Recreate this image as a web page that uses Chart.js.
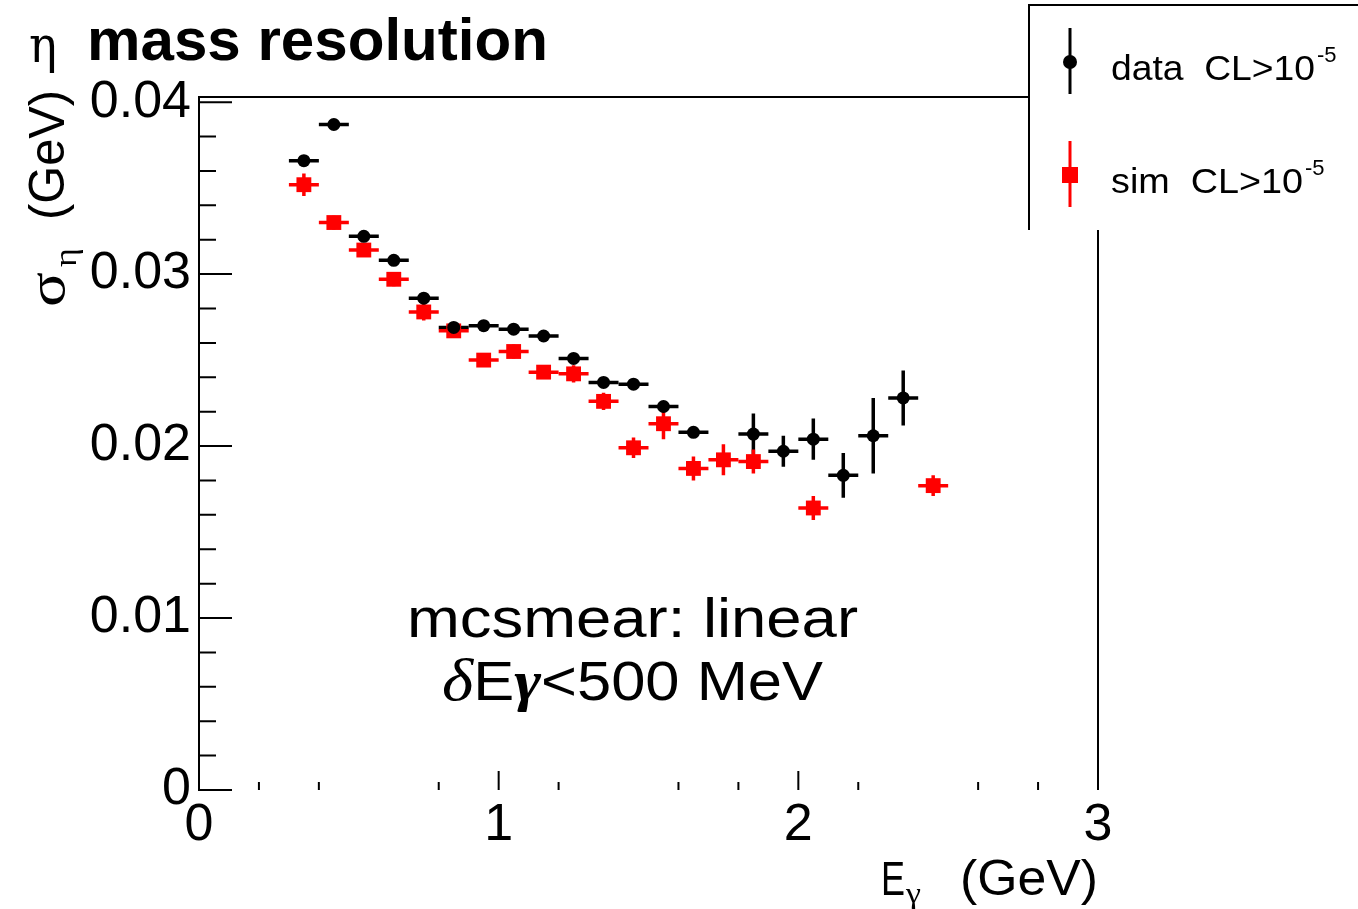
<!DOCTYPE html>
<html><head><meta charset="utf-8">
<script src="https://cdn.jsdelivr.net/npm/chart.js@4.4.1/dist/chart.umd.min.js"></script>
<style>html,body{margin:0;padding:0;background:#fff;}canvas{display:block;}</style>
</head><body>
<canvas id="c" width="1358" height="909" style="width:1358px;height:909px"></canvas>
<script>
// ---- data ----
const dataE = [0.35,0.45,0.55,0.65,0.75,0.85,0.95,1.05,1.15,1.25,1.35,1.45,1.55,1.65,1.85,1.95,2.05,2.15,2.25,2.35];
const dataSigma = [0.0366,0.0387,0.0322,0.0308,0.0286,0.0269,0.0270,0.0268,0.0264,0.0251,0.0237,0.0236,0.0223,0.0208,0.0207,0.0197,0.0204,0.0183,0.0206,0.0228];
const dataErr = [0.0001,0.0001,0.0002,0.0001,0.0002,0.0001,0.0002,0.0001,0.0002,0.0002,0.0002,0.0002,0.0003,0.0003,0.0012,0.0009,0.0012,0.0013,0.0022,0.0016];
const simE = [0.35,0.45,0.55,0.65,0.75,0.85,0.95,1.05,1.15,1.25,1.35,1.45,1.55,1.65,1.75,1.85,2.05,2.45];
const simSigma = [0.0352,0.0330,0.0314,0.0297,0.0278,0.0267,0.0250,0.0255,0.0243,0.0242,0.0226,0.0199,0.0213,0.0187,0.0192,0.0191,0.0164,0.0177];
const simErr = [0.00065,0.0004,0.0004,0.0004,0.0005,0.0004,0.0004,0.0004,0.0004,0.0005,0.0005,0.0006,0.0009,0.0007,0.0009,0.0007,0.0007,0.0006];
const binHalfWidth = 0.05;
const yTicks = [0, 0.01, 0.02, 0.03, 0.04];
const yTickLabels = ['0', '0.01', '0.02', '0.03', '0.04'];
const yMinorTicks = [0.002,0.004,0.006,0.008,0.012,0.014,0.016,0.018,0.022,0.024,0.026,0.028,0.032,0.034,0.036,0.038];
const xTicks = [0, 1, 2, 3];
const xTickLabels = ['0', '1', '2', '3'];
const xMinorTicks = [0.2,0.4,0.8,1.2,1.6,1.8,2.2,2.6,2.8];
const legendLabels = ['data  CL>10', 'sim  CL>10'];
const legendSup = '-5';

const SANS = '"Liberation Sans", Arial, Helvetica, sans-serif';
const SERIF = '"Liberation Serif", "DejaVu Serif", serif';
const GREEK = '"DejaVu Serif", "Liberation Serif", serif';

function stretchText(ctx, text, x, y, font, targetW) {
  ctx.save();
  ctx.font = font;
  ctx.textAlign = 'left';
  ctx.textBaseline = 'alphabetic';
  const w = ctx.measureText(text).width;
  const s = targetW ? targetW / w : 1;
  ctx.translate(x, y);
  ctx.scale(s, 1);
  ctx.fillText(text, 0, 0);
  ctx.restore();
  return w * s;
}

const rootPlugin = {
  id: 'rootStyle',
  beforeDatasetsDraw(chart) {
    const {ctx, scales: {x, y}} = chart;
    chart.data.datasets.forEach(ds => {
      ctx.save();
      ctx.strokeStyle = ds.backgroundColor;
      ctx.lineWidth = 3.5;
      ds.data.forEach((p, i) => {
        const px = x.getPixelForValue(p.x), py = y.getPixelForValue(p.y);
        const xl = x.getPixelForValue(p.x - binHalfWidth), xr = x.getPixelForValue(p.x + binHalfWidth);
        const yt = y.getPixelForValue(p.y + ds.errors[i]), yb = y.getPixelForValue(p.y - ds.errors[i]);
        ctx.beginPath();
        ctx.moveTo(xl, py); ctx.lineTo(xr, py);
        ctx.moveTo(px, yt); ctx.lineTo(px, yb);
        ctx.stroke();
      });
      ctx.restore();
    });
  },
  afterDraw(chart) {
    const {ctx, chartArea: a, scales: {x, y}} = chart;
    ctx.save();
    ctx.strokeStyle = '#000';
    ctx.fillStyle = '#000';
    ctx.lineWidth = 2;
    // frame: top (until legend) and right (below legend)
    ctx.beginPath();
    ctx.moveTo(a.left, a.top); ctx.lineTo(1029, a.top);
    ctx.moveTo(a.right, 230); ctx.lineTo(a.right, a.bottom);
    ctx.stroke();
    // y ticks (inward)
    ctx.beginPath();
    yTicks.forEach(v => { const py = y.getPixelForValue(v); ctx.moveTo(a.left, py); ctx.lineTo(a.left + 33, py); });
    yMinorTicks.forEach(v => { const py = y.getPixelForValue(v); ctx.moveTo(a.left, py); ctx.lineTo(a.left + 17, py); });
    // x ticks (upward)
    xTicks.forEach(v => { const px = x.getPixelForValue(v); ctx.moveTo(px, a.bottom); ctx.lineTo(px, a.bottom - 19); });
    xMinorTicks.forEach(v => { const px = x.getPixelForValue(v); ctx.moveTo(px, a.bottom); ctx.lineTo(px, a.bottom - 8); });
    ctx.stroke();

    // title
    stretchText(ctx, 'η', 29, 62, '50px ' + GREEK, 28);
    stretchText(ctx, 'mass resolution', 87, 60, 'bold 60px ' + SANS, 461);

    // y axis title (rotated)
    ctx.save();
    ctx.translate(64, 307);
    ctx.rotate(-Math.PI / 2);
    stretchText(ctx, 'σ', 0, 0, '52px ' + SERIF, 35);
    stretchText(ctx, 'η', 40, 12, '32px ' + SERIF, 19);
    stretchText(ctx, '(GeV)', 87, 0, '50px ' + SANS, 130);
    ctx.restore();

    // x axis title
    stretchText(ctx, 'E', 881, 895, '48px ' + SANS, 24);
    stretchText(ctx, 'γ', 906, 903, '30px ' + SERIF, 15);
    stretchText(ctx, '(GeV)', 960, 895, '50px ' + SANS, 138);

    // annotation
    stretchText(ctx, 'mcsmear: linear', 407, 637, '55px ' + SANS, 451);
    ctx.save();
    const parts = [
      {t: 'δ', f: 'italic 60px ' + SERIF},
      {t: 'E', f: '55px ' + SANS},
      {t: 'γ', f: 'italic bold 58px ' + SERIF},
      {t: '<500 MeV', f: '55px ' + SANS}
    ];
    ctx.textAlign = 'left';
    ctx.textBaseline = 'alphabetic';
    let tot = 0;
    parts.forEach(p => { ctx.font = p.f; p.w = ctx.measureText(p.t).width; tot += p.w; });
    const sc = 381 / tot;
    ctx.translate(442, 700);
    ctx.scale(sc, 1);
    let cx = 0;
    parts.forEach(p => { ctx.font = p.f; ctx.fillText(p.t, cx, 0); cx += p.w; });
    ctx.restore();

    // legend box (left and top edges visible)
    ctx.fillStyle = '#fff';
    ctx.fillRect(1030, 6, 330, 223);
    ctx.strokeStyle = '#000';
    ctx.lineWidth = 2;
    ctx.beginPath();
    ctx.moveTo(1029, 230); ctx.lineTo(1029, 5); ctx.lineTo(1358, 5);
    ctx.stroke();
    const ds = chart.data.datasets;
    const rows = [62, 175];
    rows.forEach((ry, i) => {
      const d = ds[i];
      ctx.strokeStyle = d.backgroundColor;
      ctx.fillStyle = d.backgroundColor;
      ctx.lineWidth = 3;
      ctx.beginPath();
      ctx.moveTo(1070, ry - 34); ctx.lineTo(1070, ry + 32);
      ctx.stroke();
      if (i === 0) {
        ctx.beginPath(); ctx.arc(1070, ry, 7, 0, Math.PI * 2); ctx.fill();
      } else {
        ctx.fillRect(1062, ry - 8, 16, 16);
      }
      ctx.fillStyle = '#000';
      const lw = stretchText(ctx, legendLabels[i], 1111, ry + 18, '35px ' + SANS, i === 0 ? 204 : 192);
      stretchText(ctx, legendSup, 1111 + lw + 2, ry, '22px ' + SANS, 0);
    });
    ctx.restore();
  }
};

const ctx = document.getElementById('c').getContext('2d');
new Chart(ctx, {
  type: 'scatter',
  data: {
    datasets: [
      {
        label: 'data CL>10^-5',
        data: dataE.map((e, i) => ({x: e, y: dataSigma[i]})),
        errors: dataErr,
        pointStyle: 'circle', pointRadius: 6.5, pointHoverRadius: 6.5,
        backgroundColor: '#000000', borderColor: '#000000', borderWidth: 0
      },
      {
        label: 'sim CL>10^-5',
        data: simE.map((e, i) => ({x: e, y: simSigma[i]})),
        errors: simErr,
        pointStyle: 'rect', pointRadius: 10.5, pointHoverRadius: 10.5,
        backgroundColor: '#ff0000', borderColor: '#ff0000', borderWidth: 0
      }
    ]
  },
  options: {
    responsive: false,
    animation: false,
    devicePixelRatio: 1,
    layout: {padding: {left: 0, right: 260, top: 97, bottom: 0}},
    plugins: {legend: {display: false}, tooltip: {enabled: false}, title: {display: false}},
    scales: {
      x: {
        type: 'linear', min: 0, max: 3,
        afterBuildTicks: s => { s.ticks = xTicks.map(v => ({value: v})); },
        afterFit: s => { s.height = 119; },
        ticks: {
          callback: v => { const i = xTicks.indexOf(v); return i >= 0 ? xTickLabels[i] : ''; },
          font: {family: SANS, size: 52}, color: '#000', padding: 4,
          maxRotation: 0, autoSkip: false
        },
        grid: {display: false, drawTicks: false},
        border: {display: false}
      },
      y: {
        type: 'linear', min: 0, max: 0.0403,
        afterBuildTicks: s => { s.ticks = yTicks.map(v => ({value: v})); },
        afterFit: s => { s.width = 199; },
        ticks: {
          callback: v => { const i = yTicks.indexOf(v); return i >= 0 ? yTickLabels[i] : ''; },
          font: {family: SANS, size: 52}, color: '#000', padding: 8,
          autoSkip: false
        },
        grid: {display: false, drawTicks: false},
        border: {display: true, color: '#000', width: 2}
      }
    }
  },
  plugins: [rootPlugin]
});
</script>
</body></html>
